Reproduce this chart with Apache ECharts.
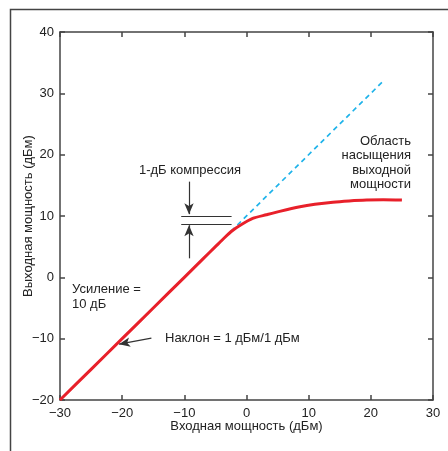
<!DOCTYPE html>
<html>
<head>
<meta charset="utf-8">
<script src="https://cdn.jsdelivr.net/npm/echarts@6/dist/echarts.min.js"></script>
<style>
  html, body { margin: 0; padding: 0; background: #fff; }
  #chart { width: 448px; height: 451px; }
</style>
</head>
<body>
<div id="chart"></div>
<script>
// tick values
const xTicks = [-30, -20, -10, 0, 10, 20, 30];
const yTicks = [-20, -10, 0, 10, 20, 30, 40];

// measured output curve (dBm in -> dBm out)
const inPower = [-30, -25, -20, -15, -10, -7, -5, -3.5, -2.3, -1, 1, 3.2, 5.5, 8.6, 11, 13.9, 16.5, 19.3, 22, 25];
const outPower = [-20, -15, -10, -5, 0, 3, 5, 6.5, 7.6, 8.5, 9.6, 10.2, 10.8, 11.5, 11.9, 12.25, 12.45, 12.6, 12.65, 12.6];

// ideal linear extension
const linearIn = [-2.5, 22];
const linearOut = [7.5, 32];

// 1 dB compression marks
const compLevels = [10, 8.7];
const compFrom = -10.5;
const compTo = -2.4;
const arrowX = -9.25;
const downArrow = [15.6, 10.3];
const upArrow = [3.1, 8.5];
const slopeArrow = [[-15.3, -9.9], [-20.5, -10.9]];

const textColor = '#222';
const axisColor = '#444';
const font = 'Liberation Sans';

const fmt = v => String(v).replace('-', '\u2212');

const chart = echarts.init(document.getElementById('chart'));

const tickCommon = {
  type: 'value',
  axisLine: { show: true, onZero: false, lineStyle: { color: axisColor, width: 1.5 } },
  axisTick: { show: true, inside: true, length: 5, lineStyle: { color: axisColor, width: 1.5 } },
  splitLine: { show: false }
};

const markSegs = [];
compLevels.forEach(l => {
  markSegs.push([
    { coord: [compFrom, l], symbol: 'none' },
    { coord: [compTo, l], symbol: 'none' }
  ]);
});
markSegs.push([
  { coord: [arrowX, downArrow[0]], symbol: 'none' },
  { coord: [arrowX, downArrow[1]], symbol: 'arrow' }
]);
markSegs.push([
  { coord: [arrowX, upArrow[0]], symbol: 'none' },
  { coord: [arrowX, upArrow[1]], symbol: 'arrow' }
]);
markSegs.push([
  { coord: slopeArrow[0], symbol: 'none' },
  { coord: slopeArrow[1], symbol: 'arrow' }
]);

chart.setOption({
  animation: false,
  textStyle: { fontFamily: font },
  grid: { left: 60, right: 15, top: 32, bottom: 51 },
  xAxis: [
    Object.assign({}, tickCommon, {
      min: xTicks[0], max: xTicks[xTicks.length - 1], interval: xTicks[1] - xTicks[0],
      position: 'bottom',
      name: 'Входная мощность (дБм)',
      nameLocation: 'middle',
      nameGap: 20,
      nameMoveOverlap: false,
      nameTextStyle: { color: textColor, fontSize: 13, fontFamily: font },
      axisLabel: { color: textColor, fontSize: 13, margin: 7, formatter: fmt, fontFamily: font }
    }),
    Object.assign({}, tickCommon, {
      min: xTicks[0], max: xTicks[xTicks.length - 1], interval: xTicks[1] - xTicks[0],
      position: 'top',
      axisLabel: { show: false }
    })
  ],
  yAxis: [
    Object.assign({}, tickCommon, {
      min: yTicks[0], max: yTicks[yTicks.length - 1], interval: yTicks[1] - yTicks[0],
      position: 'left',
      name: 'Выходная мощность (дБм)',
      nameLocation: 'middle',
      nameGap: 25,
      nameMoveOverlap: false,
      nameTextStyle: { color: textColor, fontSize: 13, fontFamily: font },
      axisLabel: { color: textColor, fontSize: 13, margin: 6, formatter: fmt, fontFamily: font }
    }),
    Object.assign({}, tickCommon, {
      min: yTicks[0], max: yTicks[yTicks.length - 1], interval: yTicks[1] - yTicks[0],
      position: 'right',
      axisLabel: { show: false }
    })
  ],
  series: [
    {
      type: 'line',
      data: linearIn.map((x, i) => [x, linearOut[i]]),
      symbol: 'none',
      lineStyle: { color: '#1fb3ea', width: 1.7, type: [5, 4] },
      z: 2
    },
    {
      type: 'line',
      data: inPower.map((x, i) => [x, outPower[i]]),
      symbol: 'none',
      smooth: 0.25,
      lineStyle: { color: '#e8202a', width: 3 },
      z: 3
    },
    {
      type: 'line',
      data: [],
      markLine: {
        silent: true,
        symbolSize: [7, 11],
        label: { show: false },
        lineStyle: { color: '#333', width: 1.2, type: 'solid' },
        itemStyle: { color: '#333' },
        data: markSegs
      }
    }
  ],
  graphic: [
    {
      type: 'rect', left: 8, top: 7, silent: true,
      shape: { width: 500, height: 500 },
      style: { fill: 'none', stroke: axisColor, lineWidth: 1.5 }
    },
    {
      type: 'text', x: 190, y: 170,
      style: { text: '1-дБ компрессия', fill: textColor, font: '13px "Liberation Sans"', align: 'center', verticalAlign: 'middle' }
    },
    {
      type: 'text', x: 411, y: 134,
      style: { text: 'Область\nнасыщения\nвыходной\nмощности', fill: textColor, font: '13px "Liberation Sans"', align: 'right', lineHeight: 14.5 }
    },
    {
      type: 'text', x: 72, y: 282,
      style: { text: 'Усиление =\n10 дБ', fill: textColor, font: '13px "Liberation Sans"', align: 'left', lineHeight: 15 }
    },
    {
      type: 'text', x: 165, y: 338,
      style: { text: 'Наклон = 1 дБм/1 дБм', fill: textColor, font: '13px "Liberation Sans"', align: 'left', verticalAlign: 'middle' }
    }
  ]
});
</script>
</body>
</html>
